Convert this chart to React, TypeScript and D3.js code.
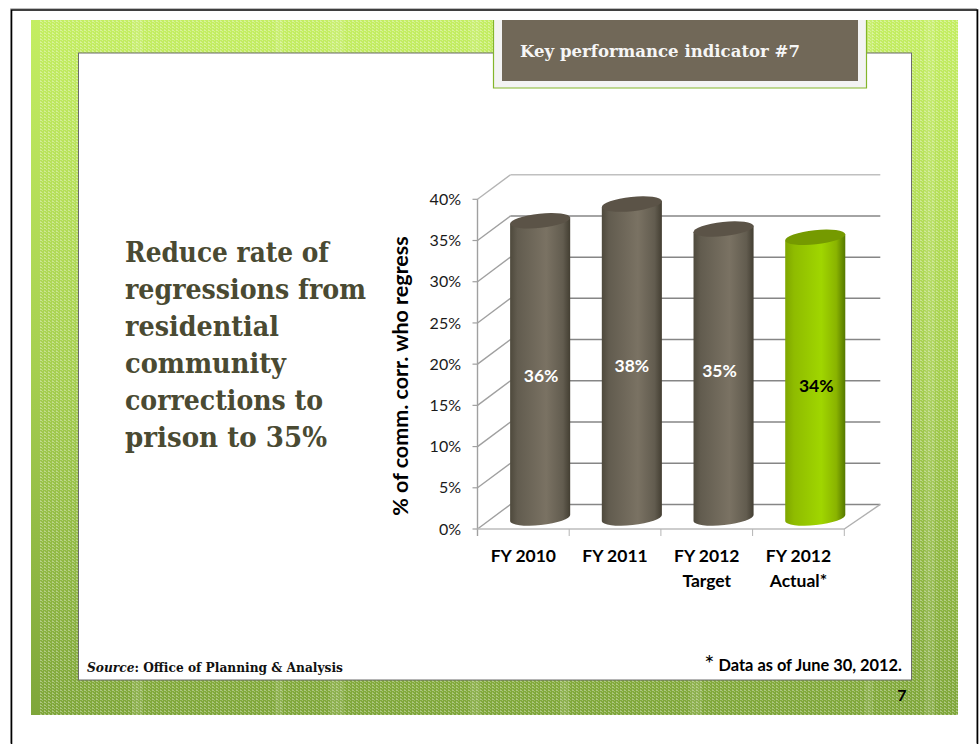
import React from "react";
import * as d3 from "d3";

// Regression rates by fiscal year
const categories = [["FY 2010"], ["FY 2011"], ["FY 2012", "Target"], ["FY 2012", "Actual*"]];
const values = [36, 38, 35, 34];
const valueLabels = ["36%", "38%", "35%", "34%"];
const labelNudges = [[1, 6], [0, 4], [-4, -3], [1, 7]];
const yTicks = [0, 5, 10, 15, 20, 25, 30, 35, 40];
const headline = ["Reduce rate of", "regressions from", "residential", "community", "corrections to", "prison to 35%"];
const headlineWidths = [204, 241, 154, 161, 198, 202];
const textureBands = [[132, 11], [275, 8], [330, 14], [470, 10], [560, 9], [690, 12], [865, 8], [925, 10]];

const SANS = "Lato, 'Open Sans', sans-serif";
const SERIF = "'DejaVu Serif', 'Liberation Serif', serif";

const frontLeft = 477.5;
const frontRight = 844.3;
const depthX = 33;
const depthY = -24.6;
const wallRight = frontRight + depthX + 3;

const x = d3.scaleBand<number>().domain(d3.range(categories.length)).range([frontLeft, frontRight]);
const y = d3.scaleLinear().domain([0, 40]).range([529, 199.3]);
// Column heights follow their own receding plane, a little behind the front axis
const columnY = d3.scaleLinear().domain([0, 40]).range([519.5, 187.5]);
const baseDrop = -1.5;

const RX = 30.2;
const RY = 7.1;
const TILT = -6;
const halfW = RX * Math.cos((TILT * Math.PI) / 180);
const lift = RX * Math.sin((-TILT * Math.PI) / 180);

function columnBody(cx: number, top: number, base: number) {
  return `M${cx - halfW},${top + lift} L${cx - halfW},${base + lift} A${RX},${RY} ${TILT} 0 0 ${cx + halfW},${base - lift} L${cx + halfW},${top - lift} Z`;
}

export default function App() {
  return (
    <svg width={980} height={744} style={{ position: "absolute", left: 0, top: 0, background: "#fff" }}>
      <defs>
        <linearGradient id="sheen" x1="0" y1="0" x2="0" y2="1">
          <stop offset="0" stopColor="#c4ee62" />
          <stop offset="0.5" stopColor="#a6cf50" />
          <stop offset="1" stopColor="#7fa63a" />
        </linearGradient>
        <pattern id="weave" width="4" height="3" patternUnits="userSpaceOnUse">
          <rect x="0" y="0" width="2" height="1" fill="#fff" opacity="0.36" />
          <rect x="2" y="1" width="1" height="1" fill="#fff" opacity="0.26" />
          <rect x="0" y="2" width="1" height="1" fill="#fff" opacity="0.26" />
        </pattern>
        <linearGradient id="brownSide" x1="0" y1="0" x2="1" y2="0">
          <stop offset="0" stopColor="#4e493c" />
          <stop offset="0.12" stopColor="#625c4f" />
          <stop offset="0.6" stopColor="#7a7263" />
          <stop offset="0.88" stopColor="#625c4f" />
          <stop offset="1" stopColor="#433e32" />
        </linearGradient>
        <linearGradient id="greenSide" x1="0" y1="0" x2="1" y2="0">
          <stop offset="0" stopColor="#7fa600" />
          <stop offset="0.15" stopColor="#8fbc00" />
          <stop offset="0.6" stopColor="#a0d600" />
          <stop offset="0.85" stopColor="#8ab400" />
          <stop offset="1" stopColor="#557800" />
        </linearGradient>
      </defs>

      {/* Page frame */}
      <path d="M11.5,744 V9.5 H977.5 V744" fill="none" stroke="#bdbdbd" strokeWidth={1} transform="translate(-1,-1)" />
      <path d="M11.5,744 V10 H977.5 V744" fill="none" stroke="#000" strokeWidth={1.6} />

      {/* Slide background */}
      <rect x={31} y={20} width={927} height={695} fill="url(#sheen)" />
      <rect x={39} y={20} width={919} height={695} fill="url(#weave)" />
      {textureBands.map(([bx, bw]) => (
        <rect key={bx} x={bx} y={20} width={bw} height={695} fill="#fff" opacity={0.1} />
      ))}
      <rect x={78.5} y={53} width={833} height={627} fill="#fff" stroke="#6b6b6b" strokeWidth={1} />

      {/* Header tab */}
      <rect x={493.5} y={20} width={373} height={68} fill="#f3f3f3" />
      <path d="M493.5,20 V88 H866.5 V20" fill="none" stroke="#84b52a" strokeWidth={1.2} />
      <rect x={502} y={20} width={356} height={61} fill="#716858" />
      <text x={520} y={56.5} fontFamily={SERIF} fontWeight={700} fontSize={16.5} fill="#f6f6f6" textLength={280} lengthAdjust="spacingAndGlyphs">
        Key performance indicator #7
      </text>

      {/* Headline */}
      {headline.map((line, i) => (
        <text key={line} x={125} y={262 + i * 37} fontFamily={SERIF} fontWeight={700} fontSize={28.5} fill="#4a4a32" textLength={headlineWidths[i]} lengthAdjust="spacingAndGlyphs">
          {line}
        </text>
      ))}

      {/* Back wall and side wall gridlines */}
      {yTicks.map((t) => {
        const py = y(t);
        const col = t === 40 ? "#c0c0c0" : "#868686";
        return (
          <g key={t}>
            <line x1={frontLeft} x2={frontLeft + depthX} y1={py} y2={py + depthY} stroke={t === 40 ? "#b4b4b4" : "#a0a0a0"} strokeWidth={1.4} />
            <line x1={frontLeft + depthX} x2={wallRight} y1={py + depthY} y2={py + depthY} stroke={col} strokeWidth={1.5} />
            <line x1={frontLeft - 5} x2={frontLeft} y1={py} y2={py} stroke="#a0a0a0" strokeWidth={1.2} />
            <text x={461} y={py} dy="0.35em" textAnchor="end" fontFamily={SANS} fontSize={16} fill="#1a1a1a">
              {t}%
            </text>
          </g>
        );
      })}

      {/* Floor and axis lines */}
      <line x1={frontLeft} x2={frontLeft} y1={y(40)} y2={536} stroke="#a0a0a0" strokeWidth={1.4} />
      <line x1={frontLeft} x2={frontRight} y1={y(0)} y2={y(0)} stroke="#bcbcbc" strokeWidth={1.6} />
      <line x1={frontRight} x2={wallRight} y1={y(0)} y2={y(0) + depthY} stroke="#b0b0b0" strokeWidth={1.4} />
      {categories.map((_, i) => (
        <line key={i} x1={(x(i) as number) + x.bandwidth()} x2={(x(i) as number) + x.bandwidth()} y1={y(0)} y2={536} stroke="#b4b4b4" strokeWidth={1} />
      ))}

      {/* Cylinders */}
      {values.map((v, i) => {
        const cx = (x(i) as number) + x.bandwidth() / 2 + depthX / 2 + 0.3;
        const top = columnY(v);
        const base = columnY(0);
        const isActual = i === values.length - 1;
        return (
          <g key={i}>
            <path d={columnBody(cx, top, base + baseDrop)} fill={isActual ? "url(#greenSide)" : "url(#brownSide)"} />
            <ellipse cx={cx} cy={top} rx={RX} ry={RY} transform={`rotate(${TILT} ${cx} ${top})`} fill={isActual ? "#759a00" : "#5b5347"} />
            <text x={cx + labelNudges[i][0]} y={(top + base) / 2 + labelNudges[i][1]} dy="0.35em" textAnchor="middle" fontFamily={SANS} fontWeight={700} fontSize={17.5} fill={isActual ? "#000" : "#fff"}>
              {valueLabels[i]}
            </text>
          </g>
        );
      })}

      {/* Category labels */}
      {categories.map((lines, i) => (
        <text key={i} textAnchor="middle" fontFamily={SANS} fontWeight={700} fontSize={17.5} fill="#000">
          {lines.map((l, j) => (
            <tspan key={l} x={(x(i) as number) + x.bandwidth() / 2} y={561.5 + j * 25}>
              {l}
            </tspan>
          ))}
        </text>
      ))}

      {/* Axis title */}
      <text transform="translate(408,376) rotate(-90)" textAnchor="middle" fontFamily={SANS} fontWeight={700} fontSize={21.5} fill="#000">
        % of comm. corr. who regress
      </text>

      {/* Footer */}
      <text x={87} y={672} fontFamily={SERIF} fontWeight={700} fontSize={13} fill="#111" textLength={256} lengthAdjust="spacingAndGlyphs">
        <tspan fontStyle="italic">Source</tspan>: Office of Planning &amp; Analysis
      </text>
      <text x={902} y={671} textAnchor="end" fontFamily={SANS} fontWeight={700} fontSize={16.4} fill="#000">
        <tspan fontWeight={400} fontSize={24} dy={1}>*</tspan>
        <tspan dy={-1}> Data as of June 30, 2012.</tspan>
      </text>
      <text x={902} y={701} textAnchor="middle" fontFamily={SANS} fontWeight={700} fontSize={16} fill="#000">
        7
      </text>
    </svg>
  );
}
